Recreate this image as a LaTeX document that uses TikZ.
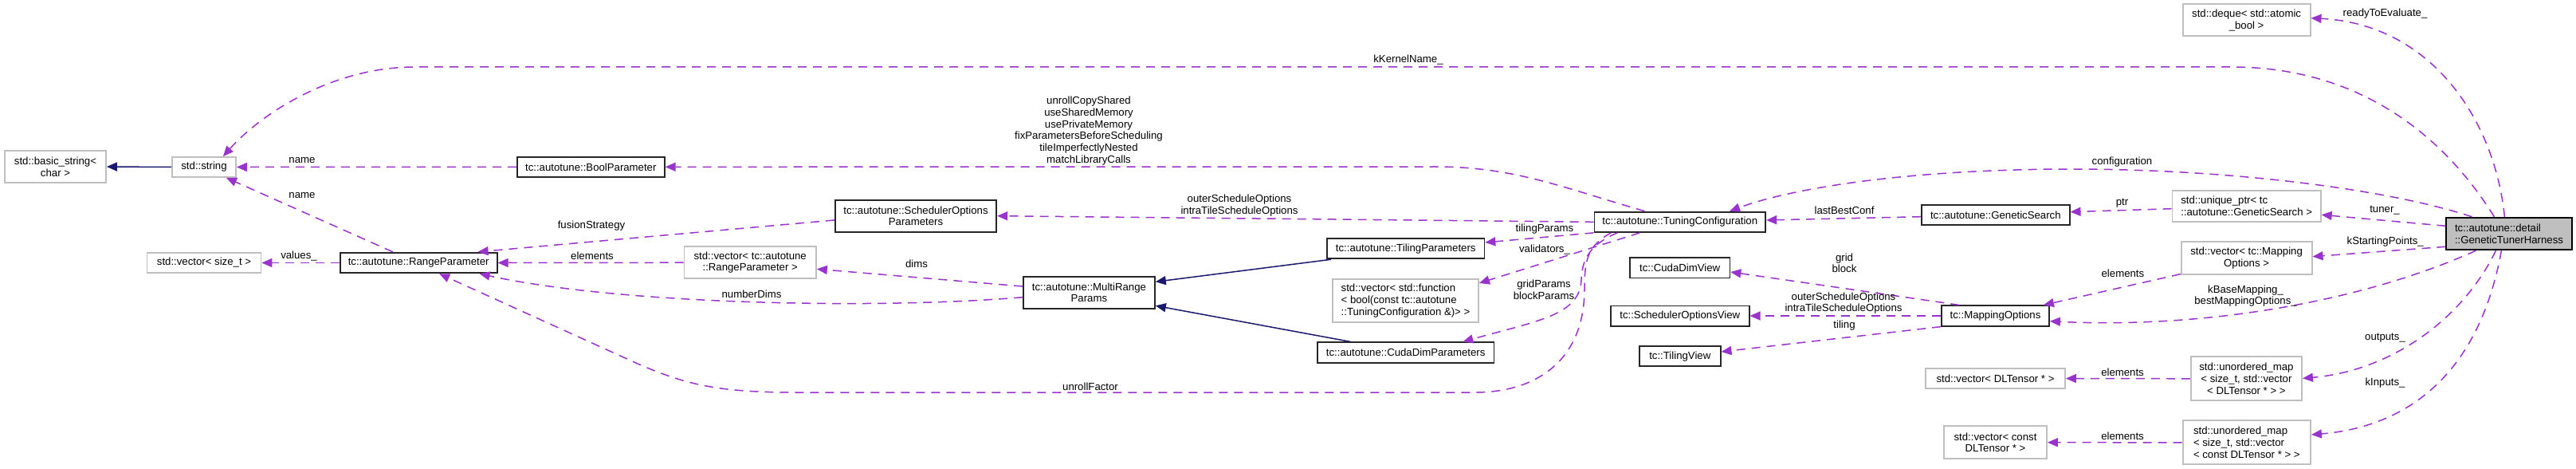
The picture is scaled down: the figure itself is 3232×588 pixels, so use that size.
\documentclass[tikz,border=0pt]{standalone}
\usepackage{fontspec}
\setmainfont{Liberation Sans}
\usetikzlibrary{arrows.meta,calc}
\definecolor{depc}{RGB}{154,50,205}
\definecolor{inhc}{RGB}{25,25,112}
\definecolor{gborder}{RGB}{191,191,191}
\definecolor{hfill}{RGB}{191,191,191}
\begin{document}
\begin{tikzpicture}[x=1pt,y=-1pt,
  every node/.style={font=\fontsize{13.2pt}{14.7pt}\selectfont, inner sep=0pt},
  cls/.style={draw=black!85, line width=1.8pt, align=center, fill=white},
  ext/.style={draw=gborder, line width=1.8pt, align=center, fill=white},
  lab/.style={align=center},
  depedge/.style={draw=depc, line width=1.5pt, dash pattern=on 11pt off 8pt, -{Triangle[length=13pt,width=11pt]}},
  inhedge/.style={draw=inhc, line width=1.5pt, -{Triangle[length=13pt,width=11pt]}}]
\useasboundingbox (0,0) rectangle (3232,588);
\fill[white] (0,0) rectangle (3232,588);

% ---- nodes ----
\node[ext, minimum width=127pt, minimum height=40pt] (bstr) at (69.5,209) {std::basic\_string<\\char >};
\node[ext, minimum width=80pt, minimum height=25pt] (str) at (256,209.5) {std::string};
\node[ext, minimum width=143pt, minimum height=25.6pt] (vsz) at (256,329.5) {std::vector< size\_t >};
\node[cls, minimum width=197pt, minimum height=25.6pt] (rp) at (525.2,329.5) {tc::autotune::RangeParameter};
\node[cls, minimum width=185pt, minimum height=25.3pt] (bp) at (741.3,209.3) {tc::autotune::BoolParameter};
\node[cls, minimum width=202.6pt, minimum height=40pt] (sop) at (1149,270.7) {tc::autotune::SchedulerOptions\\Parameters};
\node[ext, minimum width=165.5pt, minimum height=40.3pt] (vrp) at (941.2,329.2) {std::vector< tc::autotune\\::RangeParameter >};
\node[cls, minimum width=165pt, minimum height=40pt] (mrp) at (1366.4,366.7) {tc::autotune::MultiRange\\Params};
\node[cls, minimum width=197.4pt, minimum height=25.3pt] (tp) at (1763.7,311.7) {tc::autotune::TilingParameters};
\node[ext, minimum width=183pt, minimum height=54.6pt, align=left] (vfn) at (1763.5,377) {std::vector< std::function\\< bool(const tc::autotune\\::TuningConfiguration \&)> >};
\node[cls, minimum width=221.5pt, minimum height=25.7pt] (cdp) at (1763.7,442.2) {tc::autotune::CudaDimParameters};
\node[cls, minimum width=214.8pt, minimum height=25.3pt] (tc) at (2107.8,278.3) {tc::autotune::TuningConfiguration};
\node[cls, minimum width=185.6pt, minimum height=25.3pt] (gs) at (2503.8,269.3) {tc::autotune::GeneticSearch};
\node[ext, minimum width=160pt, minimum height=40.3pt] (dq) at (2818.6,25.2) {std::deque< std::atomic\\\_bool >};
\node[ext, minimum width=186.3pt, minimum height=39.6pt, align=left] (up) at (2818.6,258.5) {std::unique\_ptr< tc\\::autotune::GeneticSearch >};
\node[cls, fill=hfill, draw=black, minimum width=157.4pt, minimum height=40.6pt, align=left] (gth) at (3148,293) {tc::autotune::detail\\::GeneticTunerHarness};
\node[cls, minimum width=125.4pt, minimum height=25.5pt] (cdv) at (2107.7,335.7) {tc::CudaDimView};
\node[cls, minimum width=173.7pt, minimum height=25.2pt] (sov) at (2107.8,396) {tc::SchedulerOptionsView};
\node[cls, minimum width=101.6pt, minimum height=25.3pt] (tv) at (2107.8,446.6) {tc::TilingView};
\node[cls, minimum width=135pt, minimum height=25.4pt] (mo) at (2503.5,396) {tc::MappingOptions};
\node[ext, minimum width=164pt, minimum height=40.7pt] (vmo) at (2818.6,323.7) {std::vector< tc::Mapping\\Options >};
\node[ext, minimum width=175pt, minimum height=25.6pt] (vdl) at (2503.5,474.5) {std::vector< DLTensor * >};
\node[ext, minimum width=139.2pt, minimum height=55pt] (umo) at (2818.4,474.8) {std::unordered\_map\\< size\_t, std::vector\\< DLTensor * > >};
\node[ext, minimum width=129pt, minimum height=40.7pt] (vcdl) at (2503.5,554.7) {std::vector< const\\DLTensor * >};
\node[ext, minimum width=160.4pt, minimum height=55pt, align=left] (umi) at (2818.8,554.8) {std::unordered\_map\\< size\_t, std::vector\\< const DLTensor * > >};

% ---- inheritance ----
\draw[inhedge] (str.west) -- (bstr.east);
\draw[inhedge] ($(tp.south west)+(6,0)$) -- ($(mrp.east)+(0,-13.4)$);
\draw[inhedge] ($(cdp.north west)+(42.5,0)$) -- ($(mrp.east)+(0,16.6)$);

% ---- usage ----
\draw[depedge] (bp.west) -- (str.east);
\draw[depedge] ($(rp.north west)+(67,0)$) -- ($(str.south east)+(-13,0)$);
\draw[depedge] (rp.west) -- (vsz.east);
\draw[depedge] ($(sop.west)+(0,5.3)$) -- ($(rp.north east)+(-25,0)$);
\draw[depedge] (vrp.west) -- (rp.east);
\draw[depedge] ($(mrp.west)+(0,-7.7)$) -- ($(vrp.east)+(0,8.1)$);
\draw[depedge] ($(mrp.west)+(0,6)$) .. controls (1100,388) and (780,382) .. ($(rp.south east)+(-23,0)$);
\draw[depedge] ($(tc.south west)+(22,0)$) .. controls (1992,308) and (1988,325) .. (1988,362)
   .. controls (1988,450) and (1930,492) .. (1850,492) -- (1000,492)
   .. controls (900,492) and (860,482) .. (800,456) -- ($(rp.south)+(26,0)$);
\draw[depedge] (tc.west) -- (sop.east);
\draw[depedge] ($(tc.north west)+(64,0)$) .. controls (1960,235) and (1900,209) .. (1800,209) -- (bp.east);
\draw[depedge] (tc.south west) -- ($(tp.east)+(0,-7.7)$);
\draw[depedge] ($(tc.south west)+(58,0)$) -- ($(vfn.east)+(0,-22)$);
\draw[depedge] ($(tc.south west)+(30,0)$) .. controls (1998,305) and (1985,322) .. (1984,350)
   .. controls (1983,395) and (1930,402) .. ($(cdp.north east)+(-40,0)$);
\draw[depedge] ($(mo.north west)+(23,0)$) -- ($(cdv.east)+(0,5.3)$);
\draw[depedge] (mo.west) -- (sov.east);
\draw[depedge] (mo.south west) -- ($(tv.east)+(0,-5.6)$);
\draw[depedge] ($(gs.west)+(0,2.4)$) -- ($(tc.east)+(0,-2.3)$);
\draw[depedge] ($(up.west)+(0,3.2)$) -- ($(gs.east)+(0,-3.6)$);
\draw[depedge] ($(gth.north west)+(33,0)$) .. controls (3000,238) and (2800,212) .. (2600,212)
   .. controls (2400,212) and (2250,235) .. ($(tc.north east)+(-46,0)$);
\draw[depedge] ($(gth.west)+(0,-9.7)$) -- ($(up.east)+(0,10.8)$);
\draw[depedge] ($(gth.west)+(0,16.3)$) -- ($(vmo.east)+(0,-2)$);
\draw[depedge] ($(vmo.south west)+(0,-1.3)$) -- ($(mo.north east)+(-8,0)$);
\draw[depedge] ($(gth.south west)+(38,0)$) .. controls (2960,380) and (2760,412) .. ($(mo.east)+(0,6.7)$);
\draw[depedge] ($(gth.south west)+(63,0)$) .. controls (3090,400) and (3000,465) .. ($(umo.east)+(0,-0.5)$);
\draw[depedge] ($(gth.south west)+(70,0)$) .. controls (3110,470) and (3020,535) .. ($(umi.east)+(0,-9.8)$);
\draw[depedge] (umo.west) -- (vdl.east);
\draw[depedge] (umi.west) -- (vcdl.east);
\draw[depedge] ($(gth.north west)+(61,0)$) .. controls (3060,160) and (2950,84) .. (2800,84) -- (520,84)
   .. controls (420,84) and (330,140) .. ($(str.north east)+(-17,0)$);
\draw[depedge] ($(gth.north west)+(74,0)$) .. controls (3130,150) and (3050,30) .. ($(dq.east)+(0,-2.5)$);

% ---- labels ----
\node[lab] (l01) at (379,201) {name};
\node[lab] (l02) at (379,245) {name};
\node[lab] (l03) at (375,320.7) {values\_};
\node[lab] (l04) at (742,282.7) {fusionStrategy};
\node[lab] (l05) at (743,320.7) {elements};
\node[lab] (l06) at (1150,330.7) {dims};
\node[lab] (l07) at (943,368.7) {numberDims};
\node[lab] (l08) at (1368,484.3) {unrollFactor};
\node[lab] (l09) at (1555,257.7) {outerScheduleOptions\\intraTileScheduleOptions};
\node[lab] (l10) at (1366,164.2) {unrollCopyShared\\useSharedMemory\\usePrivateMemory\\fixParametersBeforeScheduling\\tileImperfectlyNested\\matchLibraryCalls};
\node[lab] (l11) at (1938,286.7) {tilingParams};
\node[lab] (l12) at (1938,312.7) {validators\_};
\node[lab] (l13) at (1937,363.3) {gridParams\\blockParams};
\node[lab] (l14) at (2314,329.7) {grid\\block};
\node[lab] (l15) at (2313,380) {outerScheduleOptions\\intraTileScheduleOptions};
\node[lab] (l16) at (2314,407.7) {tiling};
\node[lab] (l17) at (2314,263.3) {lastBestConf};
\node[lab] (l18) at (2662.5,255) {ptr};
\node[lab] (l19) at (2662.5,203.3) {configuration};
\node[lab] (l20) at (2992,263.3) {tuner\_};
\node[lab] (l21) at (2992.7,303.3) {kStartingPoints\_};
\node[lab] (l22) at (2663.4,342.7) {elements};
\node[lab] (l23) at (2817.5,371) {kBaseMapping\_\\bestMappingOptions\_};
\node[lab] (l24) at (2992.5,424) {outputs\_};
\node[lab] (l25) at (2992.5,480) {kInputs\_};
\node[lab] (l26) at (2663,466.7) {elements};
\node[lab] (l27) at (2663,546.7) {elements};
\node[lab] (l28) at (1767,75) {kKernelName\_};
\node[lab] (l29) at (2992.5,16.7) {readyToEvaluate\_};
\end{tikzpicture}
\end{document}
